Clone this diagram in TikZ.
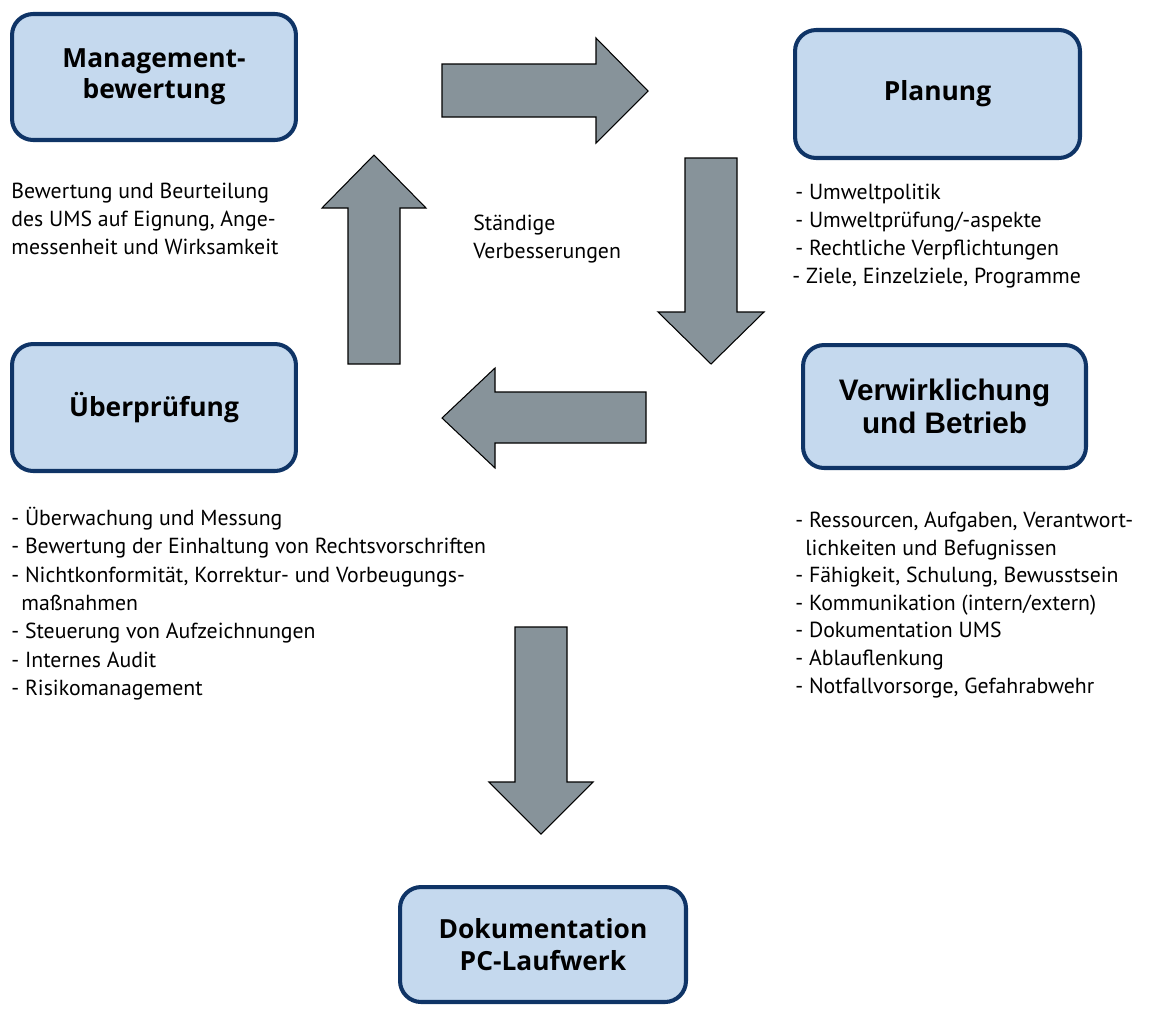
\documentclass[tikz,border=0pt]{standalone}
\usepackage{fontspec}
\setmainfont{PT Sans}
\newfontfamily\headfont{Open Sans}
\newfontfamily\arialfont{Liberation Sans}
\definecolor{boxfill}{HTML}{C5D9EE}
\definecolor{boxline}{HTML}{0F3466}
\definecolor{arrowfill}{HTML}{87939A}
\begin{document}
\begin{tikzpicture}[x=0.02cm,y=-0.02cm,
  stagebox/.style={draw=boxline, fill=boxfill, line width=2.3pt, rounded corners=12pt,
    align=center, inner sep=0pt, font=\headfont\bfseries\fontsize{15}{17.8}\selectfont},
  blockarrow/.style={fill=arrowfill, draw=black, line width=0.6pt, line join=miter},
  txt/.style={anchor=base west, inner sep=0pt, font=\fontsize{12.4}{15.9}\selectfont}]
\useasboundingbox (0,0) rectangle (1168,1008);

% boxes
\node[stagebox, minimum width=5.68cm, minimum height=2.52cm] (mgmt) at (154,77) {Management-\\bewertung};
\node[stagebox, minimum width=5.7cm, minimum height=2.56cm] (plan) at (937.5,94) {Planung};
\node[stagebox, minimum width=5.68cm, minimum height=2.54cm] (check) at (154,407.5) {Überprüfung};
\node[stagebox, minimum width=5.66cm, minimum height=2.46cm,
  font=\arialfont\bfseries\fontsize{16.9}{18.9}\selectfont] (impl) at (944.5,406.5) {Verwirklichung\\und Betrieb};
\node[stagebox, minimum width=5.72cm, minimum height=2.3cm] (doku) at (543,944.5) {Dokumentation\\PC-Laufwerk};

% block arrows
\draw[blockarrow] (442,64) -- (596,64) -- (596,38) -- (648,91) -- (596,143) -- (596,117) -- (442,117) -- cycle;
\draw[blockarrow] (685,158) -- (737,158) -- (737,312) -- (764,312) -- (711,364) -- (658,312) -- (685,312) -- cycle;
\draw[blockarrow] (646,392) -- (495,392) -- (495,368) -- (442,418) -- (495,468) -- (495,443) -- (646,443) -- cycle;
\draw[blockarrow] (348,364) -- (348,208) -- (322,208) -- (374,155) -- (426,208) -- (400,208) -- (400,364) -- cycle;
\draw[blockarrow] (515,627) -- (567,627) -- (567,782) -- (593,782) -- (541,834) -- (489,782) -- (515,782) -- cycle;

% texts
\node[txt] (m1) at (11,198) {Bewertung und Beurteilung};
\node[txt] (m2) at (11,226) {des UMS auf Eignung, Ange-};
\node[txt] (m3) at (11,254) {messenheit und Wirksamkeit};

\node[txt] (s1) at (473,230) {Ständige};
\node[txt] (s2) at (473,258) {Verbesserungen};

\node[txt] (p1) at (795,199) {- Umweltpolitik};
\node[txt] (p2) at (795,227) {- Umweltprüfung/-aspekte};
\node[txt] (p3) at (795,255) {- Rechtliche Verpflichtungen};
\node[txt] (p4) at (792,283) {- Ziele, Einzelziele, Programme};

\node[txt] (u1) at (11,525) {- Überwachung und Messung};
\node[txt] (u2) at (11,553) {- Bewertung der Einhaltung von Rechtsvorschriften};
\node[txt] (u3) at (11,582) {- Nichtkonformität, Korrektur- und Vorbeugungs-};
\node[txt] (u4) at (21,610) {maßnahmen};
\node[txt] (u5) at (11,638) {- Steuerung von Aufzeichnungen};
\node[txt] (u6) at (11,667) {- Internes Audit};
\node[txt] (u7) at (11,695) {- Risikomanagement};

\node[txt] (v1) at (795,527) {- Ressourcen, Aufgaben, Verantwort-};
\node[txt] (v2) at (805,555) {lichkeiten und Befugnissen};
\node[txt] (v3) at (795,582) {- Fähigkeit, Schulung, Bewusstsein};
\node[txt] (v4) at (795,610) {- Kommunikation (intern/extern)};
\node[txt] (v5) at (795,637) {- Dokumentation UMS};
\node[txt] (v6) at (795,665) {- Ablauflenkung};
\node[txt] (v7) at (795,693) {- Notfallvorsorge, Gefahrabwehr};
\end{tikzpicture}
\end{document}
